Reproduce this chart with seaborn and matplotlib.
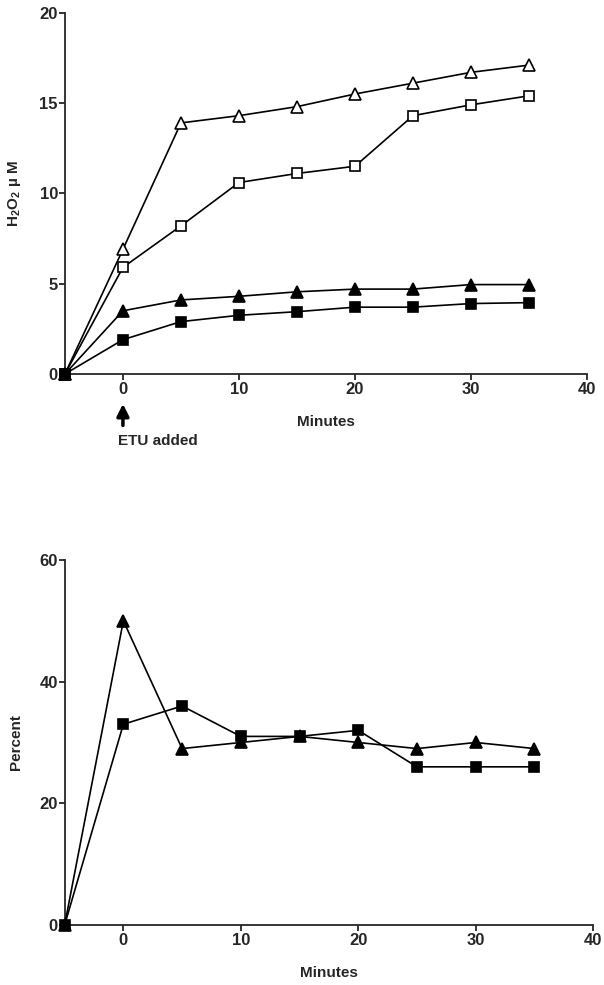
import matplotlib
matplotlib.use("Agg")
import matplotlib.pyplot as plt
import numpy as np
import pandas as pd
import seaborn as sns

minutes = [-5, 0, 5, 10, 15, 20, 25, 30, 35]

# top panel, H2O2 uM
open_triangle = [0, 6.9, 13.9, 14.3, 14.8, 15.5, 16.1, 16.7, 17.1]
open_square = [0, 5.9, 8.2, 10.6, 11.1, 11.5, 14.3, 14.9, 15.4]
filled_triangle = [0, 3.5, 4.1, 4.3, 4.55, 4.7, 4.7, 4.95, 4.95]
filled_square = [0, 1.9, 2.9, 3.25, 3.45, 3.7, 3.7, 3.9, 3.95]

# bottom panel, percent
pct_triangle = [0, 50, 29, 30, 31, 30, 29, 30, 29]
pct_square = [0, 33, 36, 31, 31, 32, 26, 26, 26]

sns.set_style("ticks")
plt.rcParams['font.family'] = ['Liberation Sans', 'DejaVu Sans']
plt.rcParams['font.weight'] = 'bold'
plt.rcParams['mathtext.fontset'] = 'custom'
plt.rcParams['mathtext.rm'] = 'Liberation Sans:bold'
plt.rcParams['mathtext.default'] = 'rm'
plt.rcParams['axes.linewidth'] = 1.3
plt.rcParams['xtick.major.width'] = 1.3
plt.rcParams['ytick.major.width'] = 1.3
plt.rcParams['xtick.major.size'] = 4
plt.rcParams['ytick.major.size'] = 4
plt.rcParams['xtick.major.pad'] = 2
plt.rcParams['ytick.major.pad'] = 1

fig = plt.figure(figsize=(6.04, 9.85), dpi=100)
ax1 = fig.add_axes([0.1075, 0.6203, 0.8644, 0.3668])
ax2 = fig.add_axes([0.107, 0.0609, 0.875, 0.3706])


def draw_series(ax, y, marker, filled):
    df = pd.DataFrame({'Minutes': minutes, 'value': y})
    sns.lineplot(data=df, x='Minutes', y='value', ax=ax, color='black', lw=1.2,
                 marker=marker, markersize=7 if marker == 's' else 8,
                 markerfacecolor='black' if filled else 'white',
                 markeredgecolor='black', markeredgewidth=1.2, clip_on=False, zorder=3)


draw_series(ax1, open_triangle, '^', False)
draw_series(ax1, open_square, 's', False)
draw_series(ax1, filled_triangle, '^', True)
draw_series(ax1, filled_square, 's', True)

draw_series(ax2, pct_triangle, '^', True)
draw_series(ax2, pct_square, 's', True)

for ax, ymax, ystep, ylab in [(ax1, 20, 5, 'H$_2$O$_2$ µ M'), (ax2, 60, 20, 'Percent')]:
    ax.set_xlim(-5, 40)
    ax.set_ylim(0, ymax)
    ax.set_xticks(np.arange(0, 41, 10))
    ax.set_yticks(np.arange(0, ymax + 1, ystep))
    ax.tick_params(labelsize=12)
    for lbl in ax.get_xticklabels() + ax.get_yticklabels():
        lbl.set_fontweight('bold')
    ax.set_xlabel('Minutes', fontsize=11, fontweight='bold', labelpad=13)
    ax.set_ylabel(ylab, fontsize=11, fontweight='bold', labelpad=12)
    sns.despine(ax=ax)

ax1.annotate('', xy=(0, -1.5), xytext=(0, -3.0), xycoords='data', annotation_clip=False,
             arrowprops=dict(arrowstyle='-|>', color='black', lw=2.5, mutation_scale=18))
ax1.text(-0.4, -3.7, 'ETU added', fontsize=11, fontweight='bold', ha='left', va='center',
         clip_on=False)

plt.savefig('out.png', dpi=100)
plt.close()
